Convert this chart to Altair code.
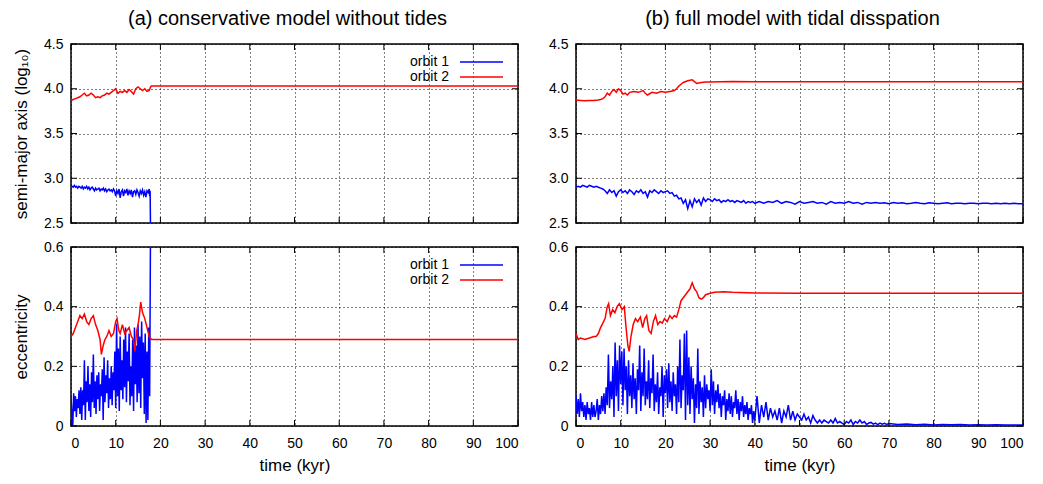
import altair as alt
import numpy as np
import pandas as pd

FONT = "Liberation Sans"
W, H = 447, 179

XTICKS = [0, 10, 20, 30, 40, 50, 60, 70, 80, 90, 100]
SMA_TICKS = [2.5, 3.0, 3.5, 4.0, 4.5]
ECC_TICKS = [0, 0.2, 0.4, 0.6]
ORBITS = ["orbit 1", "orbit 2"]
COLORS = ["#0000ff", "#ff0000"]
TITLE_A = "(a) conservative model without tides"
TITLE_B = "(b) full model with tidal disspation"

# ---------------- (a) conservative model: semi-major axis ----------------
A_SMA1_STEP = 0.25
A_SMA1_V = [
    2.92, 2.91, 2.90, 2.92, 2.90, 2.91, 2.89, 2.91, 2.90, 2.89,
    2.91, 2.88, 2.90, 2.89, 2.91, 2.88, 2.90, 2.87, 2.89, 2.90,
    2.88, 2.86, 2.89, 2.87, 2.88, 2.89, 2.86, 2.88, 2.87, 2.89,
    2.86, 2.88, 2.85, 2.87, 2.88, 2.86, 2.87, 2.85, 2.88, 2.86,
    2.80, 2.86, 2.83, 2.88, 2.78, 2.85, 2.87, 2.80, 2.86, 2.84,
    2.88, 2.81, 2.86, 2.83, 2.87, 2.79, 2.85, 2.86, 2.82, 2.87,
    2.84, 2.80, 2.86, 2.83, 2.87, 2.81, 2.85, 2.79, 2.86, 2.84,
    2.88,
]
A_SMA1_TAIL_T = [17.6, 17.7, 17.8]
A_SMA1_TAIL_V = [2.80, 2.86, 2.40]

A_SMA2_T = [0, 0.5, 1, 1.5, 2, 2.5, 3, 3.5, 4, 4.5,
            5, 5.5, 6, 6.5, 7, 7.5, 8, 8.5, 9, 9.5,
            10, 10.5, 11, 11.5, 12, 12.5, 13, 13.5, 14, 14.5,
            15, 15.5, 16, 16.5, 17, 17.5, 17.8, 18, 100]
A_SMA2_V = [3.87, 3.88, 3.89, 3.90, 3.91, 3.93, 3.95, 3.92, 3.93, 3.95,
            3.93, 3.90, 3.91, 3.90, 3.92, 3.93, 3.95, 3.94, 3.96, 3.98,
            4.00, 3.95, 3.97, 3.96, 3.98, 3.96, 3.99, 3.97, 3.94, 4.00,
            4.02, 4.00, 3.98, 4.00, 3.97, 3.98, 4.02, 4.03, 4.03]

# ---------------- (a) conservative model: eccentricity ----------------
A_ECC1_STEP = 0.2
A_ECC1_V = [
    0.10, 0.04, 0.00, 0.11, 0.05, 0.10, 0.03, 0.09, 0.06, 0.12,
    0.04, 0.13, 0.02, 0.12, 0.07, 0.22, 0.02, 0.15, 0.08, 0.20,
    0.05, 0.14, 0.03, 0.18, 0.08, 0.24, 0.06, 0.15, 0.04, 0.17,
    0.09, 0.18, 0.05, 0.14, 0.10, 0.19, 0.02, 0.23, 0.08, 0.17,
    0.11, 0.22, 0.06, 0.16, 0.09, 0.20, 0.07, 0.18, 0.12, 0.25,
    0.06, 0.34, 0.10, 0.26, 0.05, 0.30, 0.12, 0.22, 0.09, 0.29,
    0.13, 0.33, 0.08, 0.25, 0.15, 0.31, 0.07, 0.20, 0.10, 0.29,
    0.05, 0.33, 0.14, 0.27, 0.08, 0.34, 0.11, 0.30, 0.06, 0.35,
    0.16, 0.28, 0.04, 0.31, 0.01, 0.25, 0.02, 0.33, 0.10, 0.70,
]

A_ECC2_T = [0, 0.5, 1, 1.5, 2, 2.5, 3, 3.5, 4, 4.5,
            5, 5.5, 6, 6.5, 6.8, 7.2, 7.6, 8, 8.5, 9,
            9.5, 10, 10.3, 10.7, 11, 11.5, 12, 12.5, 13, 13.5,
            14, 14.3, 14.7, 15, 15.3, 15.6, 16, 16.5, 17, 17.5,
            18, 100]
A_ECC2_V = [0.30, 0.31, 0.33, 0.35, 0.37, 0.36, 0.375, 0.35, 0.34, 0.36,
            0.37, 0.34, 0.32, 0.29, 0.24, 0.27, 0.29, 0.30, 0.32, 0.30,
            0.31, 0.35, 0.36, 0.32, 0.31, 0.34, 0.31, 0.32, 0.33, 0.30,
            0.29, 0.25, 0.32, 0.34, 0.37, 0.415, 0.38, 0.36, 0.33, 0.30,
            0.29, 0.29]

# ---------------- (b) full model: semi-major axis ----------------
B_SMA1_STEP = 0.5
B_SMA1_V = [
    2.90, 2.91, 2.90, 2.92, 2.91, 2.90, 2.92, 2.91, 2.90, 2.91, 2.90,
    2.89, 2.88, 2.86, 2.83, 2.87, 2.84, 2.86, 2.80, 2.85, 2.87,
    2.84, 2.86, 2.83, 2.87, 2.85, 2.82, 2.86, 2.84, 2.87, 2.83,
    2.85, 2.79, 2.86, 2.84, 2.87, 2.85, 2.83, 2.86, 2.84, 2.85,
    2.86, 2.83, 2.84, 2.80, 2.81, 2.77, 2.78, 2.72, 2.76, 2.66,
    2.75, 2.68, 2.77, 2.73, 2.76, 2.70, 2.78, 2.74, 2.77, 2.76,
    2.74, 2.77, 2.75, 2.76, 2.73, 2.75, 2.74, 2.76, 2.74, 2.75,
    2.73, 2.75, 2.74, 2.73, 2.75, 2.72, 2.74, 2.73, 2.74, 2.72,
]
B_SMA1_TAIL_START = 41
B_SMA1_TAIL_STEP = 1
B_SMA1_TAIL_V = [
    2.74, 2.72, 2.74, 2.73, 2.75, 2.72, 2.74, 2.73, 2.71, 2.74,
    2.72, 2.73, 2.74, 2.72, 2.73, 2.71, 2.74, 2.72, 2.73, 2.72,
    2.74, 2.72, 2.73, 2.71, 2.73, 2.72, 2.73, 2.72, 2.725, 2.715,
    2.73, 2.72, 2.725, 2.715, 2.72, 2.73, 2.72, 2.715, 2.725, 2.72,
    2.715, 2.72, 2.725, 2.715, 2.72, 2.72, 2.715, 2.72, 2.72, 2.715,
    2.72, 2.72, 2.715, 2.72, 2.715, 2.72, 2.715, 2.72, 2.715, 2.715,
]

B_SMA2_T = [0, 1, 2, 3, 4, 5, 5.5, 6, 6.5, 7,
            7.5, 8, 8.5, 9, 9.5, 10, 10.5, 11, 11.5, 12,
            13, 14, 15, 15.5, 16, 17, 18, 19, 20, 21,
            22, 22.5, 23, 23.5, 24, 25, 26, 26.5, 27, 27.5,
            28, 29, 30, 35, 40, 100]
B_SMA2_V = [3.875, 3.87, 3.865, 3.87, 3.87, 3.875, 3.88, 3.89, 3.91, 3.95,
            3.93, 3.97, 3.99, 3.96, 4.00, 3.98, 3.94, 3.95, 3.93, 3.96,
            3.97, 3.96, 3.98, 3.95, 3.93, 3.96, 3.95, 3.97, 3.96, 3.97,
            3.98, 4.00, 4.03, 4.05, 4.07, 4.09, 4.10, 4.08, 4.06, 4.065,
            4.07, 4.075, 4.075, 4.08, 4.078, 4.078]

# ---------------- (b) full model: eccentricity ----------------
B_ECC1_STEP = 0.25
B_ECC1_V = [
    0.10, 0.04, 0.09, 0.03, 0.11, 0.05, 0.08, 0.03,
    0.07, 0.02, 0.08, 0.04, 0.06, 0.02, 0.08, 0.03,
    0.07, 0.03, 0.05, 0.09, 0.02, 0.07, 0.04, 0.10,
    0.05, 0.11, 0.04, 0.13, 0.07, 0.24, 0.06, 0.15,
    0.09, 0.20, 0.03, 0.28, 0.10, 0.22, 0.05, 0.27,
    0.14, 0.25, 0.07, 0.26, 0.12, 0.20, 0.04, 0.22,
    0.10, 0.17, 0.06, 0.21, 0.09, 0.16, 0.04, 0.19,
    0.12, 0.27, 0.05, 0.18, 0.10, 0.26, 0.07, 0.15,
    0.09, 0.22, 0.06, 0.16, 0.11, 0.24, 0.05, 0.14,
    0.08, 0.18, 0.04, 0.13, 0.10, 0.20, 0.03, 0.17,
    0.11, 0.19, 0.06, 0.21, 0.08, 0.15, 0.05, 0.18,
    0.10, 0.14, 0.04, 0.20, 0.08, 0.29, 0.06, 0.17,
    0.12, 0.31, 0.02, 0.32, 0.07, 0.23, 0.04, 0.20,
    0.09, 0.16, 0.01, 0.14, 0.06, 0.26, 0.04, 0.15,
    0.08, 0.13, 0.03, 0.17, 0.06, 0.14, 0.09, 0.12,
    0.05, 0.19, 0.07, 0.15, 0.04, 0.12, 0.08, 0.14,
    0.06, 0.11, 0.03, 0.10, 0.07, 0.12, 0.02, 0.09,
    0.05, 0.11, 0.04, 0.10, 0.03, 0.08, 0.06, 0.12,
    0.04, 0.09, 0.02, 0.08, 0.05, 0.10, 0.03, 0.07,
    0.04, 0.08, 0.02, 0.06, 0.04, 0.07, 0.01, 0.05,
]
B_ECC1_MID_START = 40
B_ECC1_MID_STEP = 0.5
B_ECC1_MID_V = [
    0.02, 0.10, 0.01, 0.07, 0.03, 0.08, 0.02, 0.06, 0.03, 0.05,
    0.02, 0.06, 0.01, 0.05, 0.03, 0.07, 0.02, 0.05, 0.02, 0.04,
    0.03, 0.02, 0.04, 0.02, 0.03, 0.01, 0.035, 0.02, 0.01, 0.02,
    0.01, 0.02, 0.015, 0.01, 0.02, 0.01, 0.025, 0.01, 0.015, 0.01,
    0.005, 0.015, 0.01, 0.02, 0.005, 0.015, 0.01, 0.02, 0.01, 0.015,
    0.005, 0.01, 0.012, 0.006, 0.01, 0.005, 0.01, 0.006, 0.009, 0.005,
]
B_ECC1_TAIL_START = 70
B_ECC1_TAIL_STEP = 2
B_ECC1_TAIL_V = [0.008, 0.005, 0.007, 0.004, 0.006, 0.003, 0.005, 0.004,
                 0.005, 0.003, 0.004, 0.003, 0.004, 0.003, 0.003, 0.003]

B_ECC2_T = [0, 0.5, 1, 2, 3, 4, 4.5, 5, 5.5, 6,
            6.5, 7, 7.3, 7.7, 8.2, 8.7, 9.2, 9.7, 10.3, 10.8,
            11.2, 11.6, 11.9, 12.3, 12.8, 13.3, 13.8, 14.4, 14.9, 15.4,
            15.8, 16.3, 16.8, 17.3, 17.8, 18.3, 18.8, 19.3, 19.8, 20.4,
            21, 21.5, 22, 22.5, 23, 23.5, 24, 24.5, 25, 25.5,
            26, 26.5, 27, 27.5, 28, 28.5, 29, 30, 31, 33,
            35, 40, 50, 100]
B_ECC2_V = [0.31, 0.29, 0.295, 0.29, 0.295, 0.30, 0.30, 0.31, 0.33, 0.345,
            0.36, 0.40, 0.41, 0.37, 0.39, 0.38, 0.40, 0.41, 0.39, 0.40,
            0.33, 0.27, 0.25, 0.30, 0.34, 0.36, 0.35, 0.365, 0.33, 0.36,
            0.37, 0.32, 0.31, 0.35, 0.37, 0.34, 0.35, 0.345, 0.36, 0.35,
            0.37, 0.36, 0.37, 0.365, 0.39, 0.42, 0.43, 0.44, 0.45, 0.46,
            0.48, 0.46, 0.45, 0.43, 0.425, 0.43, 0.44, 0.445, 0.448, 0.45,
            0.448, 0.446, 0.445, 0.445]


def grid_times(start, step, values):
    """Sampling times of a uniformly sampled series."""
    return [round(start + i * step, 4) for i in range(len(values))]


def series_frame(t1, v1, t2, v2):
    d1 = pd.DataFrame({"t": t1, "v": v1, "orbit": ORBITS[0]})
    d2 = pd.DataFrame({"t": t2, "v": v2, "orbit": ORBITS[1]})
    return pd.concat([d1, d2], ignore_index=True)


a_sma = series_frame(
    grid_times(0, A_SMA1_STEP, A_SMA1_V) + A_SMA1_TAIL_T, A_SMA1_V + A_SMA1_TAIL_V,
    A_SMA2_T, A_SMA2_V)
a_ecc = series_frame(
    grid_times(0, A_ECC1_STEP, A_ECC1_V), A_ECC1_V,
    A_ECC2_T, A_ECC2_V)
b_sma = series_frame(
    grid_times(0, B_SMA1_STEP, B_SMA1_V)
    + grid_times(B_SMA1_TAIL_START, B_SMA1_TAIL_STEP, B_SMA1_TAIL_V),
    B_SMA1_V + B_SMA1_TAIL_V,
    B_SMA2_T, B_SMA2_V)
b_ecc = series_frame(
    grid_times(0, B_ECC1_STEP, B_ECC1_V)
    + grid_times(B_ECC1_MID_START, B_ECC1_MID_STEP, B_ECC1_MID_V)
    + grid_times(B_ECC1_TAIL_START, B_ECC1_TAIL_STEP, B_ECC1_TAIL_V),
    B_ECC1_V + B_ECC1_MID_V + B_ECC1_TAIL_V,
    B_ECC2_T, B_ECC2_V)


def panel(df, ydom, yticks, ylabel_expr, ytitle, xlabels, title, legend):
    xscale = alt.Scale(domain=[0, 100], nice=False, zero=False)
    yscale = alt.Scale(domain=ydom, nice=False, zero=False)
    xaxis = alt.Axis(values=XTICKS, grid=True, labels=xlabels, ticks=False,
                     domain=False, format="d", labelPadding=10, titlePadding=7)
    yaxis = alt.Axis(values=yticks, grid=True, ticks=False, domain=False,
                     labelExpr=ylabel_expr, labelPadding=8, titlePadding=13)
    xtitle = "time (kyr)" if xlabels else None
    X = lambda: alt.X("t:Q", scale=xscale, axis=xaxis, title=xtitle)
    Y = lambda: alt.Y("v:Q", scale=yscale, axis=yaxis, title=ytitle)

    lines = alt.Chart(df).mark_line(strokeWidth=1.5, clip=True).encode(
        x=X(), y=Y(),
        color=alt.Color("orbit:N", scale=alt.Scale(domain=ORBITS, range=COLORS),
                        legend=None),
    )

    xt = pd.DataFrame({"t": XTICKS})
    yt = pd.DataFrame({"v": yticks})
    ticks = [
        alt.Chart(xt).mark_rule(color="black", strokeWidth=1).encode(
            x=X(), y=alt.value(0), y2=alt.value(6)),
        alt.Chart(xt).mark_rule(color="black", strokeWidth=1).encode(
            x=X(), y=alt.value(H), y2=alt.value(H - 6)),
        alt.Chart(yt).mark_rule(color="black", strokeWidth=1).encode(
            y=Y(), x=alt.value(0), x2=alt.value(6)),
        alt.Chart(yt).mark_rule(color="black", strokeWidth=1).encode(
            y=Y(), x=alt.value(W), x2=alt.value(W - 6)),
    ]

    layers = [lines] + ticks
    if legend:
        for i, (name, col) in enumerate(zip(ORBITS, COLORS)):
            yy = 18 + 15 * i
            row = pd.DataFrame({"name": [name]})
            layers.append(alt.Chart(row).mark_text(
                align="right", baseline="middle", font=FONT, fontSize=14,
                color="black").encode(text="name:N", x=alt.value(378), y=alt.value(yy)))
            layers.append(alt.Chart(row).mark_rule(color=col, strokeWidth=1.5).encode(
                x=alt.value(389), x2=alt.value(432), y=alt.value(yy)))

    props = dict(width=W, height=H)
    if title:
        props["title"] = alt.TitleParams(
            title, font=FONT, fontSize=20, fontWeight="normal", color="black",
            anchor="middle", frame="group", offset=8, dx=-7)
    return alt.layer(*layers).properties(**props)


SMA_EXPR = "format(datum.value, '.1f')"
ECC_EXPR = "datum.value == 0 ? '0' : format(datum.value, '.1f')"

tl = panel(a_sma, [2.5, 4.5], SMA_TICKS, SMA_EXPR, "semi-major axis (log\u2081\u2080)",
           False, TITLE_A, True)
tr = panel(b_sma, [2.5, 4.5], SMA_TICKS, SMA_EXPR, None, False, TITLE_B, False)
bl = panel(a_ecc, [0, 0.6], ECC_TICKS, ECC_EXPR, "eccentricity", True, None, True)
br = panel(b_ecc, [0, 0.6], ECC_TICKS, ECC_EXPR, None, True, None, False)

top = alt.hconcat(tl, tr, spacing=58, bounds="flush")
bottom = alt.hconcat(bl, br, spacing=58, bounds="flush")

chart = alt.vconcat(top, bottom, spacing=8).properties(
    padding={"left": 3, "top": 0, "right": 0, "bottom": 0},
    background="white",
).configure_view(
    stroke="black", strokeWidth=1.5
).configure_axis(
    labelFont=FONT, labelFontSize=14, labelColor="black",
    titleFont=FONT, titleFontSize=17, titleFontWeight="normal", titleColor="black",
    gridColor="black", gridDash=[1, 3], gridOpacity=1, gridWidth=1,
)

chart.save("out.html", embed_options={"renderer": "svg", "actions": False})
